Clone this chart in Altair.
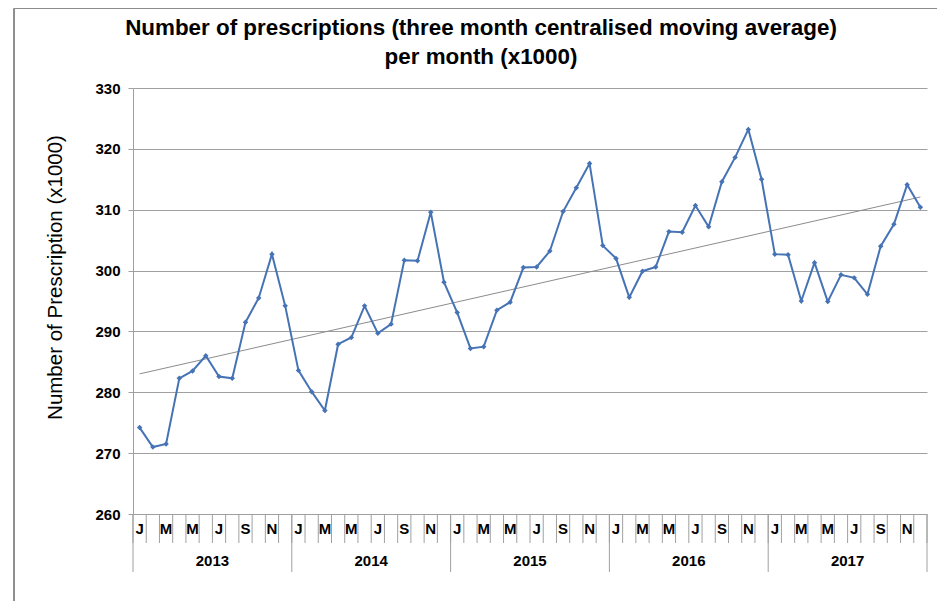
import altair as alt
import pandas as pd

years = ["2013", "2014", "2015", "2016", "2017"]
month_letters = ["J", "F", "M", "A", "M", "J", "J", "A", "S", "O", "N", "D"]
values_2013 = [274.2, 271.0, 271.5, 282.3, 283.5, 286.0, 282.6, 282.3, 291.5, 295.5, 302.7, 294.2]
values_2014 = [283.6, 280.1, 277.0, 287.9, 289.0, 294.2, 289.7, 291.2, 301.7, 301.6, 309.6, 298.1]
values_2015 = [293.1, 287.2, 287.5, 293.5, 294.8, 300.5, 300.6, 303.2, 309.7, 313.6, 317.6, 304.1]
values_2016 = [302.0, 295.6, 299.9, 300.6, 306.4, 306.3, 310.7, 307.2, 314.6, 318.6, 323.2, 315.0]
values_2017 = [302.7, 302.6, 295.0, 301.3, 294.9, 299.3, 298.8, 296.1, 304.0, 307.6, 314.1, 310.4]
all_values = [values_2013, values_2014, values_2015, values_2016, values_2017]
title_lines = ["Number of prescriptions (three month centralised moving average)", "per month (x1000)"]

rows = []
for yi, (yr, vals) in enumerate(zip(years, all_values)):
    for mi, v in enumerate(vals):
        rows.append({"idx": yi * 12 + mi, "value": v, "month": month_letters[mi], "year": yr})
df = pd.DataFrame(rows)

mlab = df[df["idx"] % 2 == 0][["idx", "month"]]
mbound = pd.DataFrame({"b": [i - 0.5 for i in range(61)]})
ybound = pd.DataFrame({"b": [i * 12 - 0.5 for i in range(6)]})
ylab = pd.DataFrame({"c": [i * 12 + 5.5 for i in range(5)], "year": years})
tdf = pd.DataFrame({"t": title_lines, "line": [0, 1]})

W, H = 794, 426
FONT = "Liberation Sans"
GRID = "#a0a0a0"
LINE = "#4673b5"
XS = alt.Scale(domain=[-0.5, 59.5], nice=False, zero=False)

x = alt.X("idx:Q", scale=XS, axis=None)
base = alt.Chart(df)

line = base.mark_line(color=LINE, strokeWidth=2).encode(
    x=x,
    y=alt.Y(
        "value:Q",
        scale=alt.Scale(domain=[260, 330], nice=False, zero=False),
        axis=alt.Axis(
            values=[260, 270, 280, 290, 300, 310, 320, 330],
            title="Number of Prescription (x1000)",
            titleFont=FONT, titleFontSize=20.5, titleFontWeight="normal", titleColor="#000000",
            titleX=-78, titleY=189, titleAngle=-90, titleAlign="center", titleBaseline="middle",
            labelFont=FONT, labelFontSize=15, labelFontWeight="bold", labelColor="#000000",
            labelPadding=8, tickSize=5, tickColor=GRID, domainColor=GRID,
            grid=True, gridColor=GRID, gridWidth=1,
        ),
    ),
)
points = base.mark_point(shape="diamond", filled=True, size=30, color=LINE, opacity=1).encode(
    x=x, y="value:Q"
)
trend = base.transform_regression("idx", "value").mark_line(color="#8c8c8c", strokeWidth=1).encode(
    x=x, y="value:Q"
)

mrules = alt.Chart(mbound).mark_rule(color=GRID, strokeWidth=1).encode(
    x=alt.X("b:Q", scale=XS, axis=None), y=alt.value(H), y2=alt.value(H + 29),
)
yrules = alt.Chart(ybound).mark_rule(color=GRID, strokeWidth=1).encode(
    x=alt.X("b:Q", scale=XS, axis=None), y=alt.value(H), y2=alt.value(H + 58),
)
mtext = alt.Chart(mlab).mark_text(font=FONT, fontSize=15, fontWeight="bold", color="#000000", baseline="middle").encode(
    x=alt.X("idx:Q", scale=XS, axis=None), y=alt.value(H + 15), text="month:N",
)
ytext = alt.Chart(ylab).mark_text(font=FONT, fontSize=15, fontWeight="bold", color="#000000", baseline="middle").encode(
    x=alt.X("c:Q", scale=XS, axis=None), y=alt.value(H + 47), text="year:N",
)
title0 = alt.Chart(tdf[tdf["line"] == 0]).mark_text(
    font=FONT, fontSize=22.4, fontWeight="bold", color="#000000", baseline="middle", align="center"
).encode(x=alt.value(348), y=alt.value(-60), text="t:N")
title1 = alt.Chart(tdf[tdf["line"] == 1]).mark_text(
    font=FONT, fontSize=22.4, fontWeight="bold", color="#000000", baseline="middle", align="center"
).encode(x=alt.value(348), y=alt.value(-31), text="t:N")

frame_top = alt.Chart(ylab).mark_rule(color="#8c8c8c", strokeWidth=1).encode(
    x=alt.value(-119), x2=alt.value(W + 10), y=alt.value(-79.5)
)
frame_left = alt.Chart(ylab).mark_rule(color="#8c8c8c", strokeWidth=1).encode(
    x=alt.value(-119), y=alt.value(-79.5), y2=alt.value(H + 100)
)

chart = alt.layer(
    frame_top, frame_left, mrules, yrules, mtext, ytext, title0, title1, trend, line, points
).properties(
    width=W, height=H,
    padding={"left": 125, "top": 80, "right": 10, "bottom": 87},
    autosize="none",
).configure_view(stroke=None)

chart.save("out.html", embed_options={"renderer": "svg", "actions": False})
